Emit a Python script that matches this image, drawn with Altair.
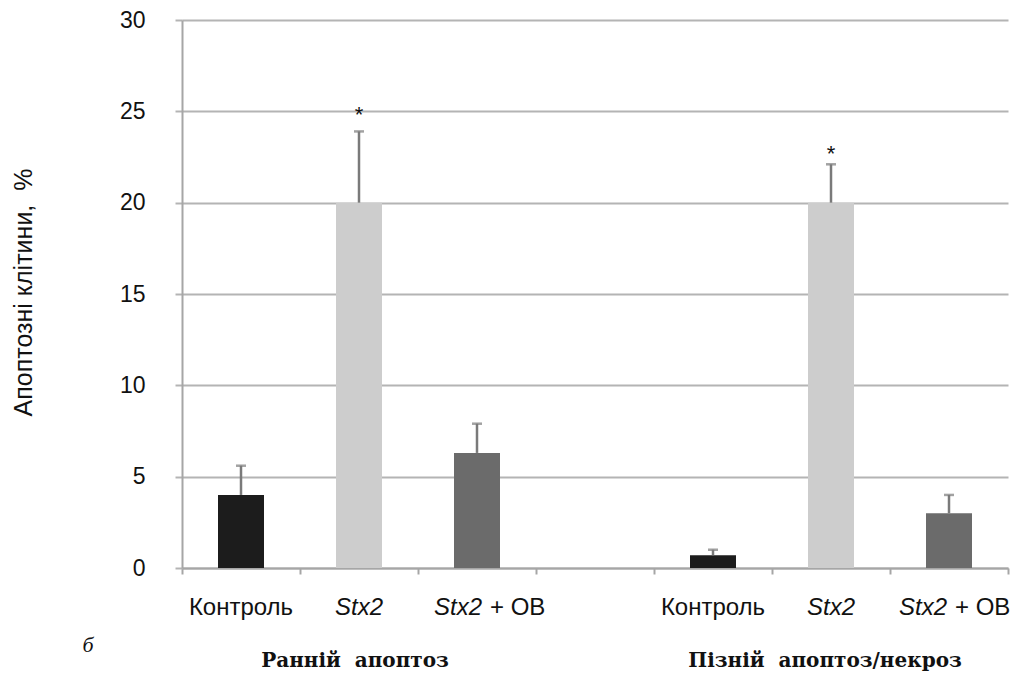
import altair as alt
import pandas as pd

# ---- data ----
slots = ["e1", "e2", "e3", "gap", "l1", "l2", "l3"]
treatments = ["Контроль", "Stx2", "Stx2 + ОВ"]
groups = ["Ранній\u00a0\u00a0апоптоз", "Пізній\u00a0\u00a0апоптоз/некроз"]
early_mean = [4.0, 20.0, 6.3]
early_err = [5.6, 23.9, 7.9]
late_mean = [0.7, 20.0, 3.0]
late_err = [1.0, 22.1, 4.0]
star_early = 24.9
star_late = 22.8
bar_colors = ["#1c1c1c", "#cdcdcd", "#6b6b6b"]
y_ticks = [0, 5, 10, 15, 20, 25, 30]
y_title = "Апоптозні клітини,\u00a0\u00a0%"

early_slots = slots[0:3]
late_slots = slots[4:7]

rows = []
for i in range(3):
    rows.append({"slot": early_slots[i], "treat": treatments[i], "value": early_mean[i], "err": early_err[i]})
    rows.append({"slot": late_slots[i], "treat": treatments[i], "value": late_mean[i], "err": late_err[i]})
df = pd.DataFrame(rows)

stars = pd.DataFrame({"slot": [early_slots[1], late_slots[1]], "y": [star_early, star_late]})

GRID = "#b4b4b4"
AX = "#a6a6a6"
FS = 24

xscale = alt.Scale(domain=slots, paddingInner=0, paddingOuter=0)
yscale = alt.Scale(domain=[0, 30], nice=False)

x_enc = alt.X("slot:N", scale=xscale, sort=slots,
              axis=alt.Axis(title=None, labels=False, tickBand="extent", tickSize=6,
                            tickColor=AX, tickWidth=2, domainColor=AX, domainWidth=2,
                            grid=False))

bars = alt.Chart(df).mark_bar(size=46).encode(
    x=x_enc,
    y=alt.Y("value:Q", scale=yscale,
            axis=alt.Axis(values=y_ticks, title=y_title, grid=True,
                          gridColor=GRID, gridWidth=2, tickSize=7, tickColor=GRID, tickWidth=2,
                          domainColor=AX, domainWidth=2, labelPadding=30,
                          labelFontSize=23, labelFont="Liberation Sans", labelColor="#111",
                          titleFont="Liberation Sans", titleFontSize=25, titleFontWeight="normal",
                          titleColor="#111", titleAngle=-90, titleX=-159, titleY=272,
                          titleAlign="center", titleBaseline="middle")),
    color=alt.Color("treat:N", scale=alt.Scale(domain=treatments, range=bar_colors), legend=None),
)

err_line = alt.Chart(df).mark_rule(color="#7a7a7a", strokeWidth=2.5).encode(
    x=alt.X("slot:N", scale=xscale, sort=slots),
    y=alt.Y("value:Q", scale=yscale),
    y2="err:Q",
)
err_cap = alt.Chart(df).mark_tick(color="#7a7a7a", thickness=2.5, size=10, orient="horizontal").encode(
    x=alt.X("slot:N", scale=xscale, sort=slots),
    y=alt.Y("err:Q", scale=yscale),
)

star = alt.Chart(stars).mark_text(text="*", fontSize=22, font="Liberation Sans", color="#111", dy=2).encode(
    x=alt.X("slot:N", scale=xscale, sort=slots),
    y=alt.Y("y:Q", scale=yscale),
)

LBL_Y = 595


def txt(slot, text, **kw):
    base = dict(fontSize=FS, font="Liberation Sans", color="#111", baseline="alphabetic")
    base.update(kw)
    return alt.Chart(pd.DataFrame({"slot": [slot], "t": [text]})).mark_text(**base).encode(
        x=alt.X("slot:N", scale=xscale, sort=slots),
        y=alt.value(LBL_Y),
        text="t:N",
    )


labels = [
    txt(early_slots[0], treatments[0], align="center"),
    txt(late_slots[0], treatments[0], align="center"),
    txt(early_slots[1], treatments[1], align="center", fontStyle="italic"),
    txt(late_slots[1], treatments[1], align="center", fontStyle="italic"),
    txt(early_slots[2], "Stx2", align="right", fontStyle="italic", dx=5),
    txt(early_slots[2], "+ ОВ", align="left", dx=13),
    txt(late_slots[2], "Stx2", align="right", fontStyle="italic", dx=-2),
    txt(late_slots[2], "+ ОВ", align="left", dx=6),
]


def grp_text(slot, text, dx):
    return alt.Chart(pd.DataFrame({"slot": [slot], "t": [text]})).mark_text(
        fontSize=20, font="DejaVu Serif", fontWeight="bold", color="#111",
        align="center", dx=dx, baseline="alphabetic").encode(
        x=alt.X("slot:N", scale=xscale, sort=slots), y=alt.value(647), text="t:N")


g1 = grp_text(early_slots[1], groups[0], -4)
g2 = grp_text(late_slots[1], groups[1], -6)

panel = alt.Chart(pd.DataFrame({"t": ["б"]})).mark_text(
    fontSize=22, font="Liberation Serif", fontStyle="italic", color="#111", align="center",
    baseline="alphabetic").encode(x=alt.value(-94), y=alt.value(632), text="t:N")

chart = alt.layer(bars, err_line, err_cap, star, *labels, g1, g2, panel).properties(
    width=826, height=548,
    autosize=alt.AutoSizeParams(type="none"),
    padding={"left": 174, "top": 12, "right": 3, "bottom": 104},
    background="white",
).configure_view(strokeWidth=0)

chart.save("out.html", embed_options={"renderer": "svg", "actions": False})
